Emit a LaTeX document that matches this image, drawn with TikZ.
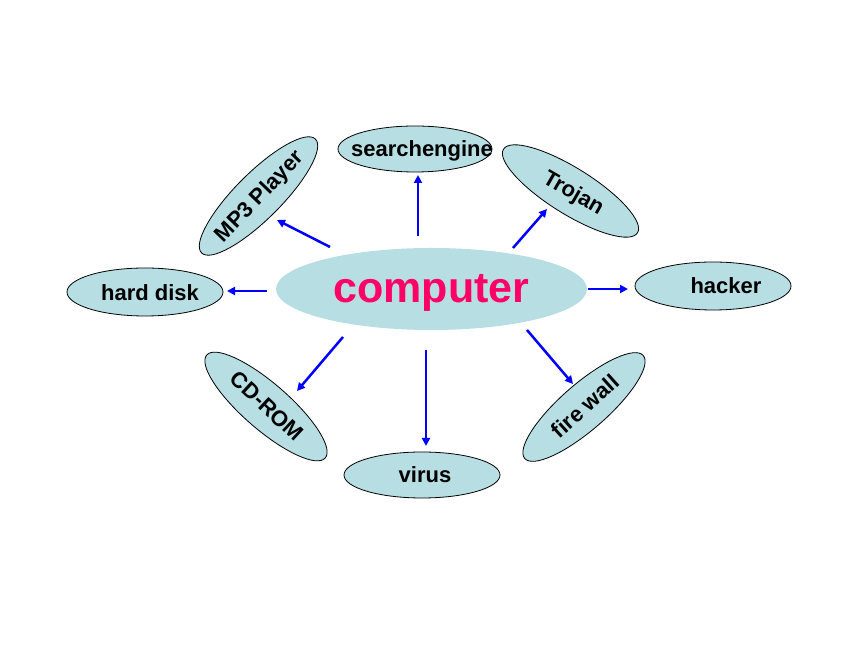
\documentclass[tikz,border=0pt]{standalone}
\usepackage{fontspec}
\setmainfont{Liberation Sans}
\usetikzlibrary{shapes.geometric,arrows.meta}
\definecolor{bubfill}{RGB}{183,222,227}
\definecolor{hotpink}{RGB}{255,0,102}
\definecolor{arrblue}{RGB}{0,0,255}
\begin{document}
\begin{tikzpicture}[x=1pt,y=1pt,
  bub/.style={ellipse,draw=black,line width=0.8pt,fill=bubfill,inner sep=0pt,minimum width=156pt,minimum height=46pt},
  lbl/.style={font=\bfseries\fontsize{22}{26}\selectfont,inner sep=0pt,text=black},
  arr/.style={draw=arrblue,line width=2.5pt,-{Triangle[length=8pt,width=8pt]}}]
\fill[white] (0,0) rectangle (860,645);
\useasboundingbox (0,0) rectangle (860,645);
% central node
\node[ellipse,fill=bubfill,inner sep=0pt,minimum width=311pt,minimum height=82pt] (comp) at (431.5,356) {};
\node[font=\bfseries\fontsize{43}{48}\selectfont,text=hotpink,inner sep=0pt] (tcomp) at (431.5,352) {computer};
% satellites
\node[bub,minimum width=154pt] (search) at (415,496) {};
\node[lbl] (tsearch) at (422,494) {searchengine};
\node[bub,minimum height=48pt] (hdisk) at (145,353) {};
\node[lbl] (thdisk) at (150,352) {hard disk};
\node[bub,minimum height=48pt] (hacker) at (713,359) {};
\node[lbl] (thacker) at (726,359) {hacker};
\node[bub] (virus) at (422,170) {};
\node[lbl] (tvirus) at (425,170) {virus};
\node[bub,minimum width=161pt,rotate=45] (mp3) at (258.5,449) {};
\node[lbl,rotate=46] (tmp3) at (260,448) {MP3 Player};
\node[bub,minimum width=158pt,rotate=-32] (trojan) at (570.5,454) {};
\node[lbl,rotate=-30] (ttrojan) at (573,451) {Trojan};
\node[bub,minimum width=157pt,rotate=-41] (cdrom) at (266,238.5) {};
\node[lbl,rotate=-43] (tcdrom) at (267,239) {CD-ROM};
\node[bub,minimum width=157pt,rotate=41] (fwall) at (584,238) {};
\node[lbl,rotate=42] (tfwall) at (585,239) {fire wall};
% arrow end points
\coordinate (s1) at (418,409); \coordinate (e1) at (418,470);
\coordinate (s2) at (330,398); \coordinate (e2) at (277,425);
\coordinate (s3) at (513,397); \coordinate (e3) at (547,436);
\coordinate (s4) at (267,354); \coordinate (e4) at (227,354);
\coordinate (s5) at (588,356); \coordinate (e5) at (628,356);
\coordinate (s6) at (343,308); \coordinate (e6) at (297,254);
\coordinate (s7) at (426,295); \coordinate (e7) at (426,199);
\coordinate (s8) at (527,315); \coordinate (e8) at (573,261);
\foreach \i in {1,...,8} {\draw[arr] (s\i) -- (e\i);}
\end{tikzpicture}
\end{document}
